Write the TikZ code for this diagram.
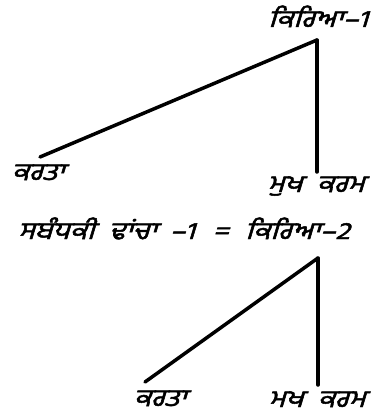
\documentclass[tikz,border=0pt]{standalone}
\usepackage{fontspec}
\newfontfamily\gur[Script=Gurmukhi,FakeSlant=0.25,FakeBold=2]{Hind Jalandhar}
\tikzset{
  lbl/.style={inner sep=0pt, anchor=base, xscale=1.2, transform shape, font=\gur\fontsize{24}{26}\selectfont},
  branch/.style={line width=3.5pt, line cap=round}
}
\begin{document}
\begin{tikzpicture}[x=1pt,y=-1pt]
\useasboundingbox (0,0) rectangle (374,414);
% top tree
\node[lbl] (k1) at (318,27) {ਕਿਰਿਆ–1};
\coordinate (a1) at (317,40);
\coordinate (l1) at (40,157);
\coordinate (r1) at (317,172);
\node[lbl] (kt1) at (38,180) {ਕਰਤਾ};
\node[lbl] (mk1) at (316,192) {ਮੁਖ\hspace{12pt}ਕਰਮ};
\draw[branch] (a1) -- (l1);
\draw[branch] (a1) -- (r1);
% middle
\node[lbl] (mid) at (184,239) {ਸਬੰਧਕੀ\hspace{12pt}ਢਾਂਚਾ\hspace{11pt}–1\hspace{15pt}=\hspace{14pt}ਕਿਰਿਆ–2};
% bottom tree
\coordinate (a2) at (318,258);
\coordinate (l2) at (145,382);
\coordinate (r2) at (318,385);
\node[lbl] (kt2) at (160,406) {ਕਰਤਾ};
\node[lbl] (mk2) at (317,407) {ਮਖ\hspace{12pt}ਕਰਮ};
\draw[branch] (a2) -- (l2);
\draw[branch] (a2) -- (r2);
\end{tikzpicture}
\end{document}
